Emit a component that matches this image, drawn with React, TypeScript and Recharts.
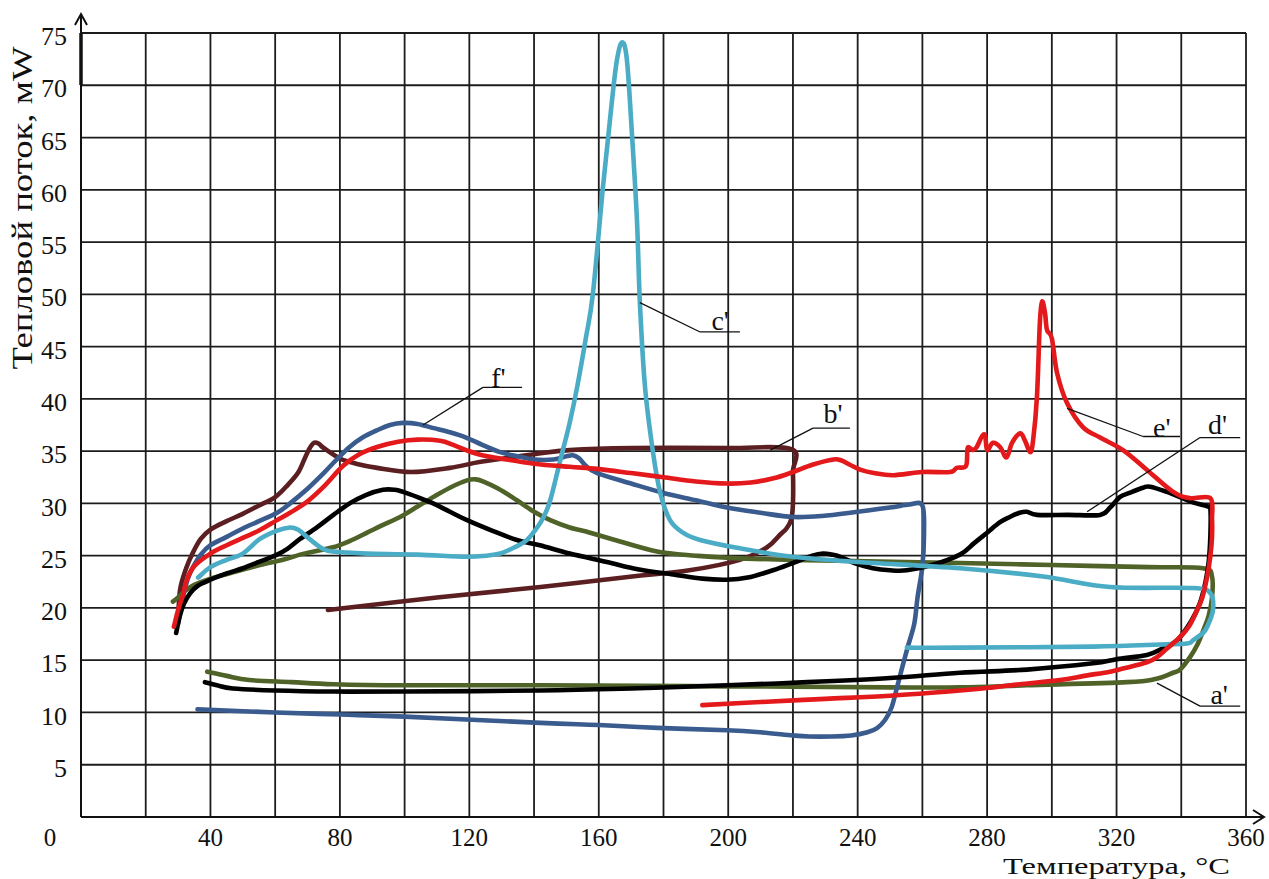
import React from 'react';
import { LineChart, Line, XAxis, YAxis, CartesianGrid, ReferenceLine, ReferenceDot } from 'recharts';

type Pt = [number, number];

// axis ticks
const xTicks = [0, 20, 40, 60, 80, 100, 120, 140, 160, 180, 200, 220, 240, 260, 280, 300, 320, 340, 360];
const yTicks = [0, 5, 10, 15, 20, 25, 30, 35, 40, 45, 50, 55, 60, 65, 70, 75];

// [температура °C, тепловой поток mW]
const curveA: Pt[] = [
  [28.4, 20.6], [30, 21], [32, 21.6], [35, 22.2], [40, 22.8], [47, 23.4], [55.3, 24.1], [62.4, 24.6],
  [67.7, 25.1], [72, 25.4], [77.9, 25.8], [83, 26.4], [88.4, 27.2], [93, 27.9], [98.6, 28.7], [104, 29.7],
  [108.8, 30.6], [114, 31.5], [119.3, 32.2], [122, 32.3], [124.2, 32.1], [129, 31.4], [134.7, 30.3],
  [140, 29.2], [145, 28.4], [151, 27.7], [157.3, 27.2], [165, 26.5], [178, 25.4], [190, 25], [199.6, 24.8],
  [220, 24.6], [271.6, 24.3], [300, 24.1], [330, 23.9], [346.7, 23.8], [349.5, 23], [349.5, 21],
  [348.5, 19.3], [347, 18], [345, 16.5], [342.7, 15.3], [339.6, 14.1], [337.5, 13.8], [332, 13.2],
  [323.2, 12.9], [292.3, 12.6], [271.6, 12.4], [250, 12.4], [200, 12.5], [141.8, 12.6], [100, 12.6],
  [78, 12.7], [65, 12.9], [52, 13.1], [45, 13.5], [39, 13.9],
];

const curveB: Pt[] = [
  [30, 18.8], [30.6, 21.7], [32.5, 23.8], [34.6, 25.3], [37, 26.6], [40, 27.5], [45, 28.3], [50, 29],
  [55, 29.8], [60, 30.6], [64, 31.8], [67, 32.9], [69, 34.2], [70.5, 35.2], [72, 35.8], [73.5, 35.7],
  [75, 35.3], [80, 34.3], [85, 33.8], [91.5, 33.4], [102, 33], [114, 33.4], [124, 34], [140, 34.7],
  [151, 35.1], [170, 35.3], [200, 35.3], [219.5, 35.2], [220, 33], [220, 30], [219.5, 28.5],
  [218, 27.6], [216, 27], [212, 25.8], [203.6, 24.6], [188, 23.6], [173, 23.1], [142, 22], [110, 21],
  [76.3, 19.8],
];

const curveC: Pt[] = [
  [36.2, 22.9], [40, 23.9], [45, 24.6], [50, 25.2], [55.3, 26.6], [60.6, 27.4], [64.6, 27.7], [67, 27.5],
  [69.8, 26.8], [73, 26], [76, 25.5], [82, 25.3], [88.4, 25.2], [104, 25.1], [119, 24.9], [125, 25],
  [129.5, 25.2], [134, 25.8], [137.8, 26.5], [140.5, 27.5], [142.8, 28.6], [145, 30.3], [148, 34],
  [151, 37.7], [153.3, 41.1], [156, 45.8], [158.2, 50.1], [161.3, 60.3], [164, 68.3], [165.6, 72.4],
  [167.2, 74.1], [168.7, 72.4], [170.3, 65.1], [171.8, 57.1], [172.7, 49.2], [174.3, 41.1], [176.8, 34.8],
  [179, 31], [182, 28.4], [186, 27.2], [191.3, 26.5], [203.6, 25.7], [220, 24.9], [240, 24.4],
  [271.6, 23.8], [297.3, 23], [318, 22], [343.6, 21.9], [349, 21.4], [349.8, 19.8], [348, 18.2],
  [346.7, 17.6], [343.6, 16.9], [341.8, 16.6], [333.4, 16.5], [312.7, 16.3], [271.6, 16.2], [255.2, 16.2],
];

const curveD: Pt[] = [
  [29.4, 17.6], [30.5, 19.2], [31.8, 20.4], [33.7, 21.4], [36, 22.1], [40, 22.7], [45, 23.3], [50, 23.8],
  [55, 24.4], [60.6, 25.1], [64, 25.7], [67.7, 26.6], [72.9, 27.7], [78, 28.9], [83, 30], [88, 30.8],
  [93.3, 31.3], [97, 31.3], [99.5, 31.1], [104, 30.6], [108.8, 30], [114, 29.2], [119.3, 28.4],
  [127, 27.4], [134.7, 26.5], [141.8, 26], [151, 25.2], [162.5, 24.4], [172, 23.7], [183, 23.2],
  [192, 22.8], [199.6, 22.7], [206, 22.9], [213.8, 23.6], [220, 24.3], [226, 25], [229.3, 25.2],
  [232, 25.1], [234.5, 24.9], [239, 24.3], [244.7, 23.8], [250, 23.6], [255.2, 23.6], [263, 24.1],
  [271.6, 25.1], [276, 26.2], [280, 27.2], [284, 28.2], [287, 28.7], [290, 29.1], [292.3, 29.2],
  [295.4, 28.9], [305, 28.9], [314.9, 28.9], [318, 29.6], [321, 30.6], [324, 31], [328.2, 31.5],
  [330.4, 31.6], [335.6, 31.1], [339.6, 30.6], [343.6, 30.1], [348.3, 29.7], [349, 29.5], [349, 27],
  [348.5, 24.5], [347.5, 22.5], [345.8, 20.5], [343, 18.7], [338.7, 16.9], [334, 16.1], [329.4, 15.5],
  [320, 15.1], [312.7, 14.7], [292.3, 14.1], [271.6, 13.8], [250, 13.3], [224.4, 12.9], [199.6, 12.6],
  [170, 12.3], [141.8, 12.1], [100, 12], [78, 12], [60, 12.1], [47, 12.3], [42, 12.6], [38.3, 12.9],
];

const curveE: Pt[] = [
  [28.7, 18.2], [30, 19.8], [31.5, 21.2], [32.7, 22.7], [35, 24], [40, 25.2], [45, 26], [50, 26.7],
  [55, 27.4], [60.6, 28.4], [64.6, 29.1], [70, 30.2], [75, 31.6], [81, 33.6], [86, 34.7], [91.5, 35.4],
  [98, 35.9], [104, 36.1], [111, 36], [115, 35.6], [119, 35.1], [124, 34.6], [129.5, 34.3], [140, 33.8],
  [151, 33.5], [159.5, 33.3], [170, 32.9], [180, 32.5], [190, 32.1], [199.6, 31.9], [207, 32],
  [214, 32.4], [220, 33], [226, 33.7], [232.5, 34.2], [235, 34.1], [237.6, 33.7], [241, 33.2],
  [245, 32.9], [251, 32.7], [260, 33], [268.5, 33], [270.6, 33.4], [273.5, 33.6], [274, 35.3],
  [275.6, 35.1], [276.8, 35.4], [278.4, 36.4], [279.4, 36.5], [280, 35.1], [281.8, 35.8], [284, 35.4],
  [286, 34.4], [287.7, 35.8], [290.2, 36.7], [291.7, 36], [293.3, 34.9], [294.2, 36], [295.4, 40.2],
  [296.3, 47.3], [297, 49.3], [297.9, 48.2], [298.5, 46.6], [300, 45.8], [301.6, 42.5], [304.7, 39.6],
  [309.6, 37.3], [314.9, 36.3], [322, 35.1], [329.4, 33.2], [337.5, 31.1], [342.7, 30.5], [349, 30.5],
  [349.5, 28.5], [349.5, 26.8], [349, 25], [348, 23], [346.5, 21], [344.9, 19.8], [342.5, 18.3],
  [339.6, 17.2], [335.5, 16.1], [332.5, 15.3], [329.4, 14.8], [322, 14.2], [318, 13.9], [310, 13.5],
  [302.5, 13.1], [290, 12.7], [281.8, 12.4], [271.6, 12.1], [250, 11.6], [230, 11.3], [210, 11],
  [192, 10.7],
];

const curveF: Pt[] = [
  [30, 18.5], [31.5, 21], [33, 22.8], [34.6, 23.9], [37, 25.1], [40, 26], [45, 26.8], [50, 27.6],
  [55, 28.3], [60.6, 29.1], [64.6, 30], [70, 31.4], [75, 32.9], [79, 34.2], [83, 35.4], [87, 36.3],
  [91.5, 37], [95.5, 37.5], [99.5, 37.7], [104, 37.6], [109, 37.2], [114, 36.8], [119, 36.3], [124, 35.6],
  [129.5, 34.9], [135, 34.5], [140, 34.2], [146, 34.2], [150, 34.5], [152, 34.6], [154, 34.3],
  [156, 33.6], [159.5, 32.9], [170, 31.9], [180, 31], [190, 30.3], [199.6, 29.6], [210, 29.1],
  [220, 28.7], [229, 28.8], [240, 29.2], [250, 29.6], [256, 29.9], [260, 29.8], [260.5, 27], [260, 24],
  [258.5, 21], [257.5, 18.5], [255.5, 16.3], [253.5, 14], [252, 12.2], [250.5, 10.5], [248.5, 9.3],
  [246, 8.5], [243, 8.1], [238, 7.8], [232, 7.7], [225, 7.7], [220, 7.8], [210, 8.1], [199.6, 8.3],
  [180, 8.5], [160, 8.8], [142, 9], [100, 9.6], [80, 9.8], [60, 10], [36, 10.3],
];

// curve labels: leader line (start, elbow, end) and text centre
const notes = [
  { text: "c'", line: [[172.7, 49.2], [191.3, 46.4], [203.6, 46.4]], at: [197.5, 47.5] },
  { text: "f'", line: [[105.7, 37.5], [124.2, 41.1], [136.3, 41.1]], at: [129, 42.1] },
  { text: "b'", line: [[213, 35.1], [226.2, 37.2], [237.6, 37.2]], at: [232.4, 38.6] },
  { text: "e'", line: [[304.7, 39.1], [328.2, 36.4], [339.6, 36.4]], at: [334, 37.3] },
  { text: "d'", line: [[310.9, 29.2], [345.8, 36.3], [358.2, 36.3]], at: [351.2, 37.6] },
  { text: "a'", line: [[332.5, 12.8], [345.8, 10.6], [358.2, 10.6]], at: [351.7, 11.8] },
];

const series = [
  { name: "b'", color: '#5b1f22', pts: curveB },
  { name: "a'", color: '#4f6228', pts: curveA },
  { name: "f'", color: '#3a5b8e', pts: curveF },
  { name: "d'", color: '#000000', pts: curveD },
  { name: "c'", color: '#4bacc6', pts: curveC },
  { name: "e'", color: '#e3191c', pts: curveE },
];

const FONT = '"Liberation Serif", "Times New Roman", serif';

// Catmull-Rom style curve: goes through every point, also where the trace turns back
const smooth = (context: any) => {
  let pts: number[][] = [];
  return {
    areaStart() {},
    areaEnd() {},
    lineStart() {
      pts = [];
    },
    point(x: number, y: number) {
      pts.push([+x, +y]);
    },
    lineEnd() {
      if (!pts.length) return;
      context.moveTo(pts[0][0], pts[0][1]);
      for (let i = 0; i < pts.length - 1; i++) {
        const p0 = pts[i - 1] || pts[i];
        const p1 = pts[i];
        const p2 = pts[i + 1];
        const p3 = pts[i + 2] || p2;
        context.bezierCurveTo(
          p1[0] + (p2[0] - p0[0]) / 6,
          p1[1] + (p2[1] - p0[1]) / 6,
          p2[0] - (p3[0] - p1[0]) / 6,
          p2[1] - (p3[1] - p1[1]) / 6,
          p2[0],
          p2[1],
        );
      }
    },
  };
};

const XTick = (props: any) => {
  const { x, y, payload } = props;
  const v = payload.value;
  if (v % 40 !== 0) return <g />;
  const shift = v === 0 ? -31 : 0;
  return (
    <text x={x + shift} y={y + 29} textAnchor="middle" fontFamily={FONT} fontSize={25} fill="#111">
      {v}
    </text>
  );
};

const YTick = (props: any) => {
  const { x, y, payload } = props;
  if (payload.value === 0) return <g />;
  return (
    <text x={x - 14} y={y + 3} dy="0.35em" textAnchor="end" fontFamily={FONT} fontSize={26} fill="#111">
      {payload.value}
    </text>
  );
};

export default function App() {
  return (
    <div style={{ position: 'absolute', left: 0, top: 0, width: 1269, height: 879, background: '#fff' }}>
      <LineChart width={1269} height={879} margin={{ top: 33, right: 23, bottom: 0, left: 0 }}>
        <CartesianGrid stroke="#1c1c1c" strokeWidth={1.8} />
        <XAxis
          type="number"
          dataKey="t"
          domain={[0, 360]}
          ticks={xTicks}
          height={62}
          tickSize={0}
          tickMargin={0}
          tickLine={false}
          axisLine={{ stroke: '#111', strokeWidth: 2 }}
          tick={<XTick />}
          interval={0}
        />
        <YAxis
          type="number"
          domain={[0, 75]}
          ticks={yTicks}
          width={81}
          tickSize={0}
          tickMargin={0}
          tickLine={false}
          axisLine={{ stroke: '#111', strokeWidth: 2 }}
          tick={<YTick />}
          interval={0}
        />
        {series.map((s) => (
          <Line
            key={s.name}
            name={s.name}
            data={s.pts.map(([t, q]) => ({ t, q }))}
            dataKey="q"
            type={smooth as any}
            stroke={s.color}
            strokeWidth={4.6}
            strokeLinejoin="round"
            strokeLinecap="round"
            dot={false}
            activeDot={false}
            isAnimationActive={false}
          />
        ))}
        {notes.flatMap((n) => [
          <ReferenceLine
            key={n.text + '1'}
            segment={[{ x: n.line[0][0], y: n.line[0][1] }, { x: n.line[1][0], y: n.line[1][1] }]}
            stroke="#111"
            strokeWidth={1.3}
          />,
          <ReferenceLine
            key={n.text + '2'}
            segment={[{ x: n.line[1][0], y: n.line[1][1] }, { x: n.line[2][0], y: n.line[2][1] }]}
            stroke="#111"
            strokeWidth={1.3}
          />,
          <ReferenceDot
            key={n.text + 't'}
            x={n.at[0]}
            y={n.at[1]}
            r={0}
            fill="none"
            stroke="none"
            label={{ value: n.text, position: 'center', fontSize: 28, fontFamily: FONT, fill: '#111' }}
          />,
        ])}
      </LineChart>
      <svg
        width={1269}
        height={879}
        style={{ position: 'absolute', left: 0, top: 0, pointerEvents: 'none' }}
      >
        <g stroke="#111" strokeWidth={2} fill="none">
          <line x1={81} y1={33} x2={81} y2={14} />
          <polyline points="75,25 81,14 87,25" />
          <line x1={81} y1={33} x2={81} y2={85} strokeWidth={3.5} />
          <line x1={1246} y1={817} x2={1264} y2={817} />
          <polyline points="1253,810 1264,817 1253,824" />
        </g>
        <text
          transform="translate(32,208) rotate(-90)"
          textAnchor="middle"
          fontFamily={FONT}
          fontSize={30}
          fill="#111"
          textLength={323}
          lengthAdjust="spacingAndGlyphs"
        >
          Тепловой поток, мW
        </text>
        <text
          x={1003}
          y={873.5}
          fontFamily={FONT}
          fontSize={24}
          fill="#111"
          textLength={227}
          lengthAdjust="spacingAndGlyphs"
        >
          Температура, °C
        </text>
      </svg>
    </div>
  );
}
